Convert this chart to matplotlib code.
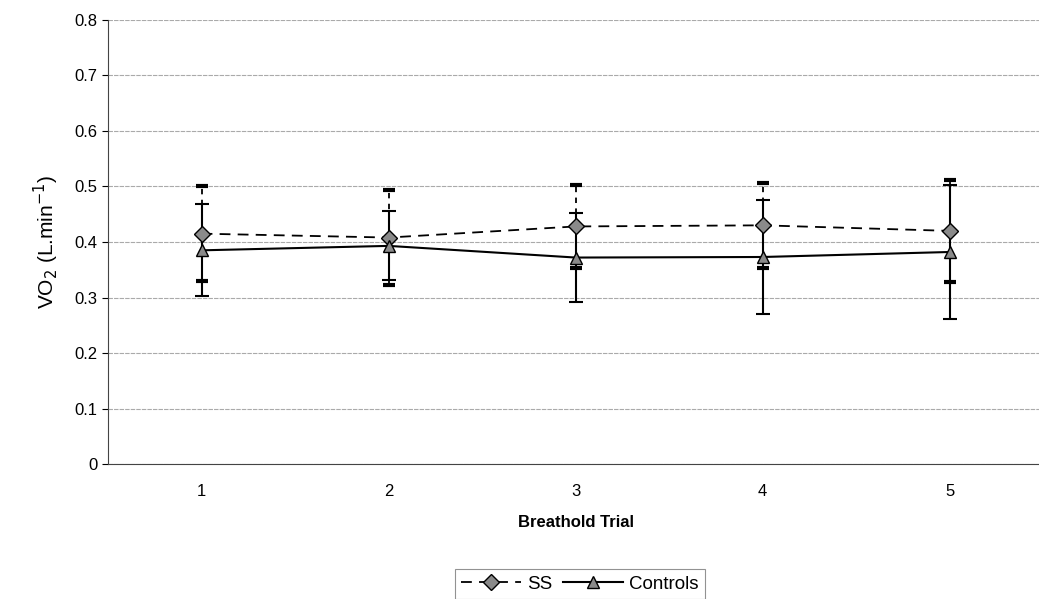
import numpy as np
import matplotlib.pyplot as plt
from matplotlib.lines import Line2D

plt.rcParams['font.family'] = ['Liberation Sans', 'DejaVu Sans']

# breath-hold trials and mean VO2 with standard deviations
trials = [1, 2, 3, 4, 5]
ss_mean = [0.415, 0.408, 0.428, 0.430, 0.420]
ss_sd = [0.085, 0.085, 0.075, 0.077, 0.092]
ctrl_mean = [0.385, 0.393, 0.372, 0.373, 0.382]
ctrl_sd = [0.083, 0.062, 0.080, 0.103, 0.120]

fig = plt.figure(figsize=(10.39, 5.99), dpi=100)
ax = fig.add_axes([0.104, 0.225, 0.90, 0.742])

ss_style = dict(color='black', ls=(0, (6, 4)), lw=1.3, marker='D', ms=8,
                mfc='#8a8a8a', mec='black')
ctrl_style = dict(color='black', ls='-', lw=1.5, marker='^', ms=8,
                  mfc='#8a8a8a', mec='black')

# SS: dashed line with diamonds, dashed error bars
eb1 = ax.errorbar(trials, ss_mean, yerr=ss_sd, capsize=4, elinewidth=1.3,
                  capthick=3, zorder=3, **ss_style)
eb1[-1][0].set_linestyle((0, (3, 3)))

# Controls: solid line with triangles
ax.errorbar(trials, ctrl_mean, yerr=ctrl_sd, capsize=5, elinewidth=1.5,
            capthick=1.5, zorder=3, **ctrl_style)

ax.set_xlim(0.5, 5.5)
ax.set_ylim(0, 0.8)
ax.set_xticks(trials)
ax.set_yticks(np.arange(0, 0.81, 0.1))
ax.set_yticklabels(['0'] + ['%.1f' % v for v in np.arange(0.1, 0.81, 0.1)])
ax.tick_params(axis='both', labelsize=12)
ax.tick_params(axis='x', length=0, pad=14)
ax.tick_params(axis='y', length=4, direction='out')
ax.grid(axis='y', color='#aaaaaa', lw=0.8, ls=(0, (4, 1)))
ax.set_axisbelow(True)
for s in ['top', 'right']:
    ax.spines[s].set_visible(False)
ax.spines['left'].set_color('#444444')
ax.spines['bottom'].set_color('#444444')

ax.set_xlabel('Breathold Trial', fontsize=12, fontweight='bold', labelpad=12)
ax.set_ylabel('VO$_2$ (L.min$^{-1}$)', fontsize=15, labelpad=10)

handles = [Line2D([], [], **ss_style), Line2D([], [], **ctrl_style)]
leg = fig.legend(handles, ['SS', 'Controls'], loc='upper center',
                 bbox_to_anchor=(0.558, 0.066), ncol=2, frameon=True,
                 fancybox=False, edgecolor='#777777', fontsize=13.5, handlelength=3.2,
                 columnspacing=0.6, handletextpad=0.3, borderpad=0.35)
leg.get_frame().set_linewidth(0.8)

fig.savefig('out.png', dpi=100)
